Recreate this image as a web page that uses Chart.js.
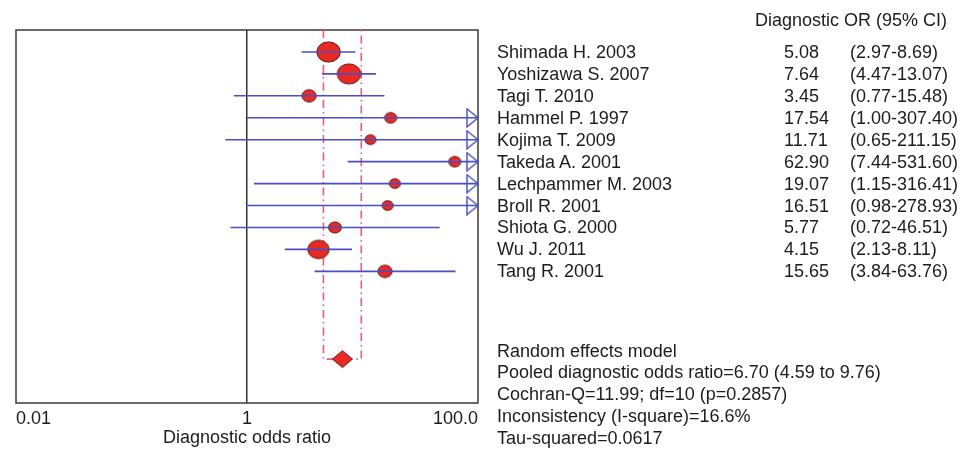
<!DOCTYPE html>
<html><head><meta charset="utf-8">
<script src="https://cdn.jsdelivr.net/npm/chart.js@4/dist/chart.umd.min.js"></script>
<style>
html,body{margin:0;padding:0;background:#fff;}
#wrap{position:relative;width:971px;height:450px;font-family:"Liberation Sans",Arial,sans-serif;color:#1c1c1c;font-size:18px;overflow:hidden;}
#c{position:absolute;left:0;top:0;}
.t{position:absolute;white-space:nowrap;line-height:22px;}
</style></head><body>
<div id="wrap"><canvas id="c" width="971" height="450"></canvas><div id="table"></div></div>
<script>
// ---------------- data ----------------
const studies = ["Shimada H. 2003","Yoshizawa S. 2007","Tagi T. 2010","Hammel P. 1997","Kojima T. 2009","Takeda A. 2001","Lechpammer M. 2003","Broll R. 2001","Shiota G. 2000","Wu J. 2011","Tang R. 2001"];
const oddsRatio = [5.08, 7.64, 3.45, 17.54, 11.71, 62.90, 19.07, 16.51, 5.77, 4.15, 15.65];
const ciLower = [2.97, 4.47, 0.77, 1.00, 0.65, 7.44, 1.15, 0.98, 0.72, 2.13, 3.84];
const ciUpper = [8.69, 13.07, 15.48, 307.40, 211.15, 531.60, 316.41, 278.93, 46.51, 8.11, 63.76];
const orLabels = ["5.08","7.64","3.45","17.54","11.71","62.90","19.07","16.51","5.77","4.15","15.65"];
const ciLabels = ["(2.97-8.69)","(4.47-13.07)","(0.77-15.48)","(1.00-307.40)","(0.65-211.15)","(7.44-531.60)","(1.15-316.41)","(0.98-278.93)","(0.72-46.51)","(2.13-8.11)","(3.84-63.76)"];
// relative study weights (%)
const studyWeights = [19.6, 19.6, 7.3, 5.3, 4.5, 5.3, 4.5, 4.5, 5.9, 16.3, 7.3];
const pooledEstimate = [6.70, 4.59, 9.76]; // OR, lower, upper
const xTickValues = [0.01, 1, 100];
const xTickLabels = ["0.01", "1", "100.0"];
const headerText = "Diagnostic OR (95% CI)";
const axisTitle = "Diagnostic odds ratio";
const statsLines = ["Random effects model","Pooled diagnostic odds ratio=6.70 (4.59 to 9.76)","Cochran-Q=11.99; df=10 (p=0.2857)","Inconsistency (I-square)=16.6%","Tau-squared=0.0617"];

// ---------------- styles ----------------
const X_MIN = 0.01, X_MAX = 100;
const Y_MIN = 0, Y_MAX = 17;
const POOLED_ROW = studies.length + 4;
const BLUE = "rgb(72,78,200)";
const RED = "#ea2a22";
const DARK = "#5a1717";
const DASHRED = "#e0607a";
const TEXT = "#1c1c1c";

function ellipseImg(rx, ry){
  const c = document.createElement("canvas");
  c.width = Math.ceil(2*rx+3); c.height = Math.ceil(2*ry+3);
  const g = c.getContext("2d");
  g.beginPath(); g.ellipse(c.width/2, c.height/2, rx, ry, 0, 0, Math.PI*2);
  g.fillStyle = RED; g.fill(); g.lineWidth = 1; g.strokeStyle = DARK; g.stroke();
  return c;
}
function arrowImg(){
  const w = 12, h = 9;
  const c = document.createElement("canvas");
  c.width = 2*w; c.height = 2*h+2;
  const g = c.getContext("2d");
  g.beginPath(); g.moveTo(1,1); g.lineTo(w, h+1); g.lineTo(1, 2*h+1); g.closePath();
  g.fillStyle = "#fff"; g.fill(); g.lineWidth = 1.4; g.strokeStyle = BLUE; g.stroke();
  return c;
}
function diamondImg(hw, hh){
  const c = document.createElement("canvas");
  c.width = 2*hw+3; c.height = 2*hh+3;
  const g = c.getContext("2d");
  const cx = c.width/2, cy = c.height/2;
  g.beginPath(); g.moveTo(cx-hw, cy); g.lineTo(cx, cy-hh); g.lineTo(cx+hw, cy); g.lineTo(cx, cy+hh); g.closePath();
  g.fillStyle = RED; g.fill(); g.lineWidth = 1; g.strokeStyle = DARK; g.stroke();
  return c;
}

const datasets = [];
// CI lines (drawn on top of markers)
studies.forEach((s, i) => {
  datasets.push({
    type: "line", label: s + " CI",
    data: [{x: ciLower[i], y: i+1}, {x: Math.min(ciUpper[i], X_MAX), y: i+1}],
    borderColor: BLUE, borderWidth: 1.6, pointRadius: 0, order: 0
  });
});
// arrows for truncated CIs
const arrowPts = [];
studies.forEach((s, i) => { if (ciUpper[i] > X_MAX) arrowPts.push({x: X_MAX, y: i+1}); });
const arr = arrowImg();
datasets.push({type: "scatter", label: "arrows", data: arrowPts, pointStyle: arr, pointRadius: 4, clip: false, order: 0});
// study markers
const markerImgs = studyWeights.map(w => { const rx = 2.65*Math.sqrt(w); return ellipseImg(rx, rx*0.86); });
datasets.push({
  type: "scatter", label: "OR",
  data: oddsRatio.map((v, i) => ({x: v, y: i+1})),
  pointStyle: markerImgs, pointRadius: 5, order: 1
});
// pooled CI bracket
datasets.push({
  type: "line", label: "pooled CI",
  data: [{x: pooledEstimate[1], y: Y_MIN}, {x: pooledEstimate[1], y: POOLED_ROW}, {x: pooledEstimate[2], y: POOLED_ROW}, {x: pooledEstimate[2], y: Y_MIN}],
  borderColor: DASHRED, borderWidth: 1.6, borderDash: [8, 4, 1.5, 4], pointRadius: 0, order: 3
});
// pooled diamond
datasets.push({
  type: "scatter", label: "pooled",
  data: [{x: pooledEstimate[0], y: POOLED_ROW}],
  pointStyle: diamondImg(10, 8.5), pointRadius: 5, order: 0
});

const framePlugin = {
  id: "frame",
  beforeDatasetsDraw(chart){
    const a = chart.chartArea, ctx = chart.ctx;
    ctx.save(); ctx.strokeStyle = "#3a3a3a"; ctx.lineWidth = 1.5;
    ctx.strokeRect(a.left, a.top, a.right - a.left, a.bottom - a.top);
    ctx.restore();
  }
};

new Chart(document.getElementById("c"), {
  type: "scatter",
  data: { datasets },
  plugins: [framePlugin],
  options: {
    responsive: false, animation: false, events: [],
    layout: { padding: { left: 16, top: 30, right: 493, bottom: 2 } },
    plugins: { legend: { display: false }, tooltip: { enabled: false } },
    scales: {
      x: {
        type: "logarithmic", min: X_MIN, max: X_MAX,
        afterBuildTicks: (sc) => { sc.ticks = xTickValues.map(v => ({value: v})); },
        ticks: {
          callback: (v, idx) => xTickLabels[idx],
          align: "inner", maxRotation: 0, autoSkip: false, padding: 6,
          color: TEXT, font: { family: "'Liberation Sans', Arial, sans-serif", size: 18, lineHeight: "20px" }
        },
        grid: {
          drawTicks: false, lineWidth: 1.5,
          color: (ctx) => (ctx.tick && ctx.tick.value === 1) ? "#333" : "rgba(0,0,0,0)"
        },
        border: { display: false },
        title: { display: true, text: axisTitle, color: TEXT, padding: { top: -7, bottom: 0 },
          font: { family: "'Liberation Sans', Arial, sans-serif", size: 18, lineHeight: "20px" } }
      },
      y: { type: "linear", min: Y_MIN, max: Y_MAX, reverse: true, display: false }
    }
  }
});

// ---------------- right-hand text table ----------------
const tbl = document.getElementById("table");
function addText(txt, left, centerY){
  const d = document.createElement("div");
  d.className = "t"; d.textContent = txt;
  d.style.left = left + "px"; d.style.top = (centerY - 11) + "px";
  tbl.appendChild(d);
}
const rowPx = (403 - 30) / (Y_MAX - Y_MIN);
addText(headerText, 755, 20);
studies.forEach((s, i) => {
  const cy = 30 + (i + 1) * rowPx;
  addText(s, 497, cy);
  addText(orLabels[i], 784, cy);
  addText(ciLabels[i], 850, cy);
});
statsLines.forEach((s, i) => addText(s, 497, 350.5 + i * 21.8));
</script>
</body></html>
